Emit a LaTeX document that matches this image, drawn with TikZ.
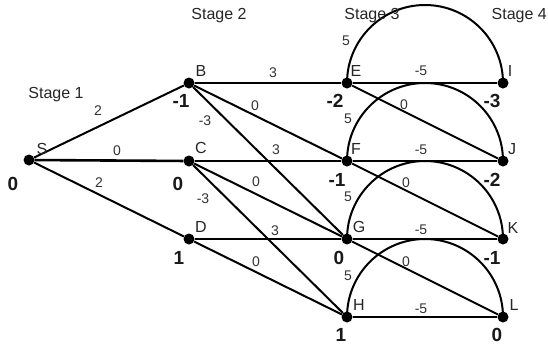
\documentclass[tikz,border=0pt]{standalone}
\usepackage{fontspec}
\setmainfont{Liberation Sans}
\begin{document}
\begin{tikzpicture}[x=1pt,y=-1pt,
  dot/.style={circle,fill=black,inner sep=0pt,minimum size=11pt},
  edge/.style={line width=2pt,black},
  lab/.style={font=\fontsize{16}{16}\selectfont,text=black!85,inner sep=0pt},
  wt/.style={font=\fontsize{14}{14}\selectfont,text=black!80,inner sep=0pt},
  val/.style={font=\fontsize{19}{19}\selectfont\bfseries,text=black!90,inner sep=0pt}]
\useasboundingbox[fill=white] (0,0) rectangle (548,346);
% nodes
\node[dot] (S) at (29,160) {};
\node[dot] (B) at (189,83) {};
\node[dot] (C) at (189,161) {};
\node[dot] (D) at (189,239) {};
\node[dot] (E) at (347,83) {};
\node[dot] (F) at (347,161) {};
\node[dot] (G) at (347,239) {};
\node[dot] (H) at (347,317) {};
\node[dot] (I) at (503,83) {};
\node[dot] (J) at (503,161) {};
\node[dot] (K) at (503,239) {};
\node[dot] (L) at (503,317) {};
% edges
\draw[edge] (S) -- (B);
\draw[edge,line width=2.6pt] (S) -- (C);
\draw[edge] (S) -- (D);
\draw[edge] (B) -- (E);
\draw[edge] (B) -- (F);
\draw[edge] (B) -- (G);
\draw[edge] (C) -- (F);
\draw[edge] (C) -- (G);
\draw[edge] (C) -- (H);
\draw[edge] (D) -- (G);
\draw[edge] (D) -- (H);
\draw[edge] (E) -- (I);
\draw[edge] (E) -- (J);
\draw[edge] (F) -- (J);
\draw[edge] (F) -- (K);
\draw[edge] (G) -- (K);
\draw[edge] (G) -- (L);
\draw[edge] (H) -- (L);
\draw[edge] (E.center) arc[start angle=180,end angle=360,radius=78];
\draw[edge] (F.center) arc[start angle=180,end angle=360,radius=78];
\draw[edge] (G.center) arc[start angle=180,end angle=360,radius=78];
\draw[edge] (H.center) arc[start angle=180,end angle=360,radius=78];
% stage labels
\node[lab] (st1) at (56,95) {Stage 1};
\node[lab] (st2) at (219,16) {Stage 2};
\node[lab] (st3) at (372,16) {Stage 3};
\node[lab,anchor=east] (st4) at (547,16) {Stage 4};
% node letters
\node[lab] (lS) at (42,149) {S};
\node[lab] (lB) at (201,71) {B};
\node[lab] (lC) at (201,148) {C};
\node[lab] (lD) at (201,227) {D};
\node[lab] (lE) at (356,71) {E};
\node[lab] (lF) at (356,149) {F};
\node[lab] (lG) at (359,227) {G};
\node[lab] (lH) at (359,305) {H};
\node[lab] (lI) at (510,71) {I};
\node[lab] (lJ) at (512,149) {J};
\node[lab] (lK) at (513,228) {K};
\node[lab] (lL) at (514,305) {L};
% values
\node[val] (vS) at (13,184) {0};
\node[val] (vB) at (181,101) {-1};
\node[val] (vC) at (178,184) {0};
\node[val] (vD) at (179,258) {1};
\node[val] (vE) at (335,101) {-2};
\node[val] (vF) at (337,180) {-1};
\node[val] (vG) at (339,258) {0};
\node[val] (vH) at (341,335) {1};
\node[val] (vI) at (492,101) {-3};
\node[val] (vJ) at (492,180) {-2};
\node[val] (vK) at (492,258) {-1};
\node[val] (vL) at (497,335) {0};
% weights
\node[wt] (w1) at (98,111) {2};
\node[wt] (w2) at (117,151) {0};
\node[wt] (w3) at (99,183) {2};
\node[wt] (w4) at (273,73) {3};
\node[wt] (w5) at (255,106) {0};
\node[wt] (w6) at (205,121) {-3};
\node[wt] (w7) at (276,150) {3};
\node[wt] (w8) at (256,182) {0};
\node[wt] (w9) at (203,199) {-3};
\node[wt] (w10) at (275,231) {3};
\node[wt] (w11) at (256,262) {0};
\node[wt] (w12) at (346,41) {5};
\node[wt] (w13) at (421,71) {-5};
\node[wt] (w14) at (404,105) {0};
\node[wt] (w15) at (348,119) {5};
\node[wt] (w16) at (421,150) {-5};
\node[wt] (w17) at (406,183) {0};
\node[wt] (w18) at (348,197) {5};
\node[wt] (w19) at (421,230) {-5};
\node[wt] (w20) at (406,262) {0};
\node[wt] (w21) at (348,276) {5};
\node[wt] (w22) at (421,309) {-5};
\end{tikzpicture}
\end{document}
